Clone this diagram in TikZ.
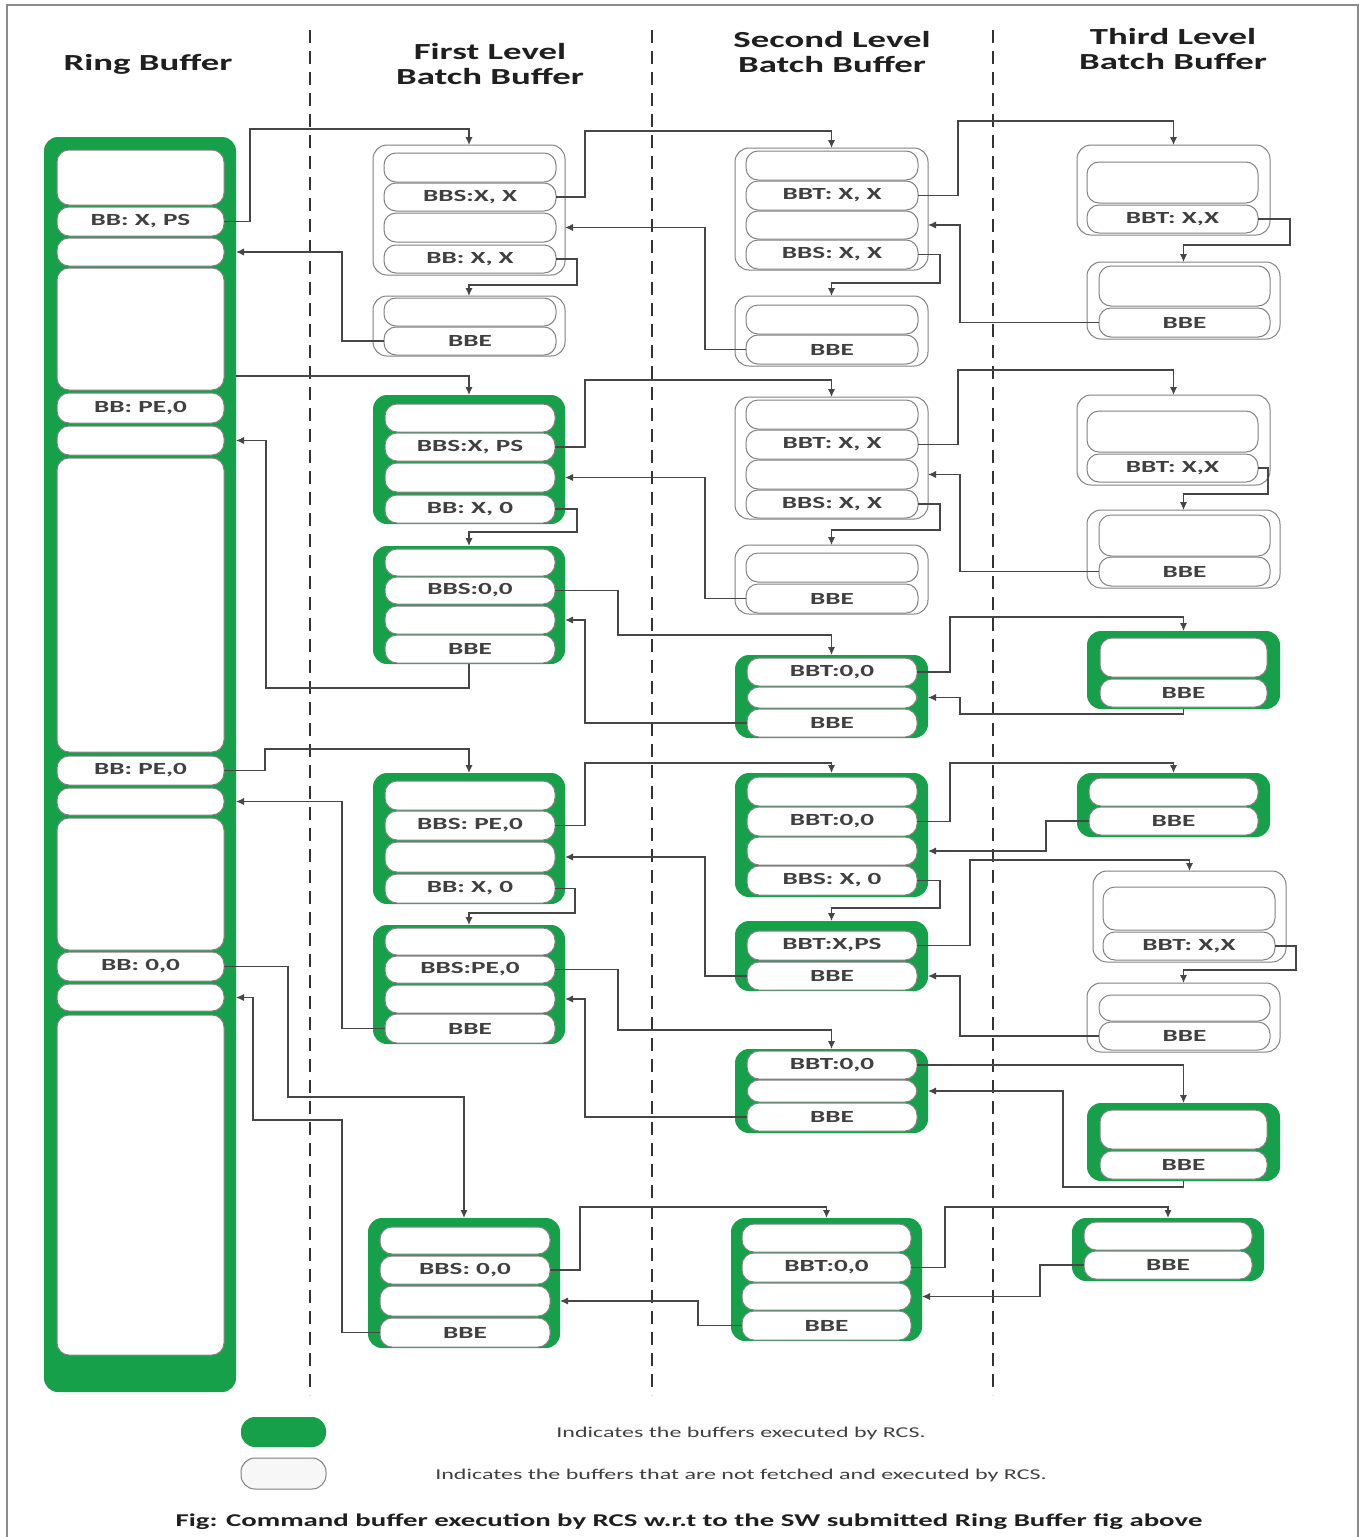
\documentclass[tikz,border=0pt]{standalone}
\usepackage{fontspec}
\usetikzlibrary{arrows.meta}
\newfontfamily\cf{Carlito}[FakeStretch=1.6]
\definecolor{gr}{RGB}{22,160,74}
\definecolor{ln}{RGB}{70,70,70}
\definecolor{sb}{RGB}{130,130,130}
\tikzset{
  slot/.style={draw=sb, fill=white, line width=0.5pt, rounded corners=6pt, inner sep=0pt, outer sep=0pt,
    font=\cf\bfseries\fontsize{8.5}{9}\selectfont, text=black!75},
  gbox/.style={fill=gr, draw=none, rounded corners=7pt, inner sep=0pt, outer sep=0pt},
  wbox/.style={fill=white, draw=sb, line width=0.5pt, rounded corners=7pt, inner sep=0pt, outer sep=0pt},
  cn/.style={draw=ln, line width=0.6pt, -{Latex[length=4pt,width=3.6pt]}},
  hdr/.style={font=\cf\bfseries\fontsize{11.5}{12.5}\selectfont, text=black!88, align=center, inner sep=0pt},
  lg/.style={font=\cf\fontsize{7.5}{9}\selectfont, text=black!75, inner sep=0pt},
  divline/.style={draw=black!80, line width=1.4pt, dash pattern=on 6.5pt off 4pt}
}
\newcommand\bx[6]{\node[#6, minimum width={(#4-#2)*0.5pt}, minimum height={(#5-#3)*0.5pt}] (#1) at ({(#2+#4)/2},{(#3+#5)/2}) {};}
\newcommand\slt[6]{\node[slot, minimum width={(#4-#2)*0.5pt}, minimum height={(#5-#3)*0.5pt}] (#1) at ({(#2+#4)/2},{(#3+#5)/2}) {#6};}
\begin{document}
\begin{tikzpicture}[x=0.5pt,y=-0.5pt]
\useasboundingbox (0,0) rectangle (1364,1537);
\fill[white] (0,0) rectangle (1364,1537);
\draw[black!45, line width=0.6pt] (7,1537) -- (7,5) -- (1358,5) -- (1358,1537);
% dividers
\coordinate (d1t) at (310,30); \coordinate (d1b) at (310,1395);
\coordinate (d2t) at (652,30); \coordinate (d2b) at (652,1395);
\coordinate (d3t) at (993,30); \coordinate (d3b) at (993,1395);
\draw[divline] (d1t) -- (d1b);
\draw[divline] (d2t) -- (d2b);
\draw[divline] (d3t) -- (d3b);
% headers
\node[hdr] (hd0) at (148,64) {Ring Buffer};
\node[hdr] (hd1) at (490,64) {First Level\\Batch Buffer};
\node[hdr] (hd2) at (832,52) {Second Level\\Batch Buffer};
\node[hdr] (hd3) at (1173,49) {Third Level\\Batch Buffer};
% ring buffer
\bx{ring}{44}{137}{236}{1392}{gbox}
\slt{rg1}{57}{150}{224}{205}{}
\slt{rg2}{57}{207}{224}{236}{BB: X, PS}
\slt{rg3}{57}{238}{224}{266}{}
\slt{rg4}{57}{268}{224}{390}{}
\slt{rg5}{57}{393}{224}{423}{BB: PE,0}
\slt{rg6}{57}{426}{224}{455}{}
\slt{rg7}{57}{458}{224}{752}{}
\slt{rg8}{57}{756}{224}{785}{BB: PE,0}
\slt{rg9}{57}{788}{224}{815}{}
\slt{rg10}{57}{818}{224}{950}{}
\slt{rg11}{57}{952}{224}{981}{BB: 0,0}
\slt{rg12}{57}{984}{224}{1011}{}
\slt{rg13}{57}{1015}{224}{1355}{}
% first level
\bx{A}{373}{145}{565}{275}{wbox}
\slt{a1}{384}{153}{556}{182}{}
\slt{a2}{384}{183}{556}{211}{BBS:X, X}
\slt{a3}{384}{213}{556}{242}{}
\slt{a4}{384}{245}{556}{273}{BB: X, X}
\bx{B}{373}{296}{565}{356}{wbox}
\slt{b1}{384}{298}{556}{326}{}
\slt{b2}{384}{327}{556}{355}{BBE}
\bx{C}{373}{395}{565}{524}{gbox}
\slt{c1}{385}{404}{555}{432}{}
\slt{c2}{385}{433}{555}{461}{BBS:X, PS}
\slt{c3}{385}{463}{555}{492}{}
\slt{c4}{385}{495}{555}{523}{BB: X, 0}
\bx{D}{373}{546}{565}{664}{gbox}
\slt{d1}{385}{549}{555}{576}{}
\slt{d2}{385}{577}{555}{604}{BBS:0,0}
\slt{d3}{385}{606}{555}{634}{}
\slt{d4}{385}{635}{555}{663}{BBE}
\bx{E}{373}{773}{565}{904}{gbox}
\slt{e1}{385}{781}{555}{810}{}
\slt{e2}{385}{811}{555}{840}{BBS: PE,0}
\slt{e3}{385}{842}{555}{872}{}
\slt{e4}{385}{874}{555}{903}{BB: X, 0}
\bx{F}{373}{925}{565}{1044}{gbox}
\slt{f1}{385}{928}{555}{955}{}
\slt{f2}{385}{956}{555}{983}{BBS:PE,0}
\slt{f3}{385}{985}{555}{1013}{}
\slt{f4}{385}{1014}{555}{1043}{BBE}
\bx{G}{368}{1218}{560}{1348}{gbox}
\slt{g1}{380}{1227}{550}{1254}{}
\slt{g2}{380}{1256}{550}{1284}{BBS: 0,0}
\slt{g3}{380}{1286}{550}{1316}{}
\slt{g4}{380}{1318}{550}{1347}{BBE}
% second level
\bx{H}{735}{148}{928}{270}{wbox}
\slt{h1}{746}{151}{918}{180}{}
\slt{h2}{746}{181}{918}{210}{BBT: X, X}
\slt{h3}{746}{211}{918}{239}{}
\slt{h4}{746}{240}{918}{269}{BBS: X, X}
\bx{I}{735}{296}{928}{366}{wbox}
\slt{i1}{746}{305}{918}{334}{}
\slt{i2}{746}{335}{918}{364}{BBE}
\bx{J}{735}{397}{928}{519}{wbox}
\slt{j1}{746}{400}{918}{429}{}
\slt{j2}{746}{430}{918}{459}{BBT: X, X}
\slt{j3}{746}{460}{918}{489}{}
\slt{j4}{746}{490}{918}{518}{BBS: X, X}
\bx{K}{735}{545}{928}{614}{wbox}
\slt{k1}{746}{553}{918}{582}{}
\slt{k2}{746}{584}{918}{613}{BBE}
\bx{L}{735}{655}{928}{738}{gbox}
\slt{l1}{747}{658}{917}{686}{BBT:0,0}
\slt{l2}{747}{687}{917}{708}{}
\slt{l3}{747}{709}{917}{737}{BBE}
\bx{M}{735}{773}{928}{897}{gbox}
\slt{m1}{747}{777}{917}{806}{}
\slt{m2}{747}{807}{917}{836}{BBT:0,0}
\slt{m3}{747}{837}{917}{865}{}
\slt{m4}{747}{866}{917}{895}{BBS: X, 0}
\bx{N}{735}{921}{928}{991}{gbox}
\slt{n1}{747}{931}{917}{960}{BBT:X,PS}
\slt{n2}{747}{962}{917}{990}{BBE}
\bx{O}{735}{1049}{928}{1133}{gbox}
\slt{o1}{747}{1051}{917}{1079}{BBT:0,0}
\slt{o2}{747}{1080}{917}{1102}{}
\slt{o3}{747}{1103}{917}{1131}{BBE}
\bx{P}{731}{1218}{922}{1341}{gbox}
\slt{p1}{742}{1224}{911}{1252}{}
\slt{p2}{742}{1253}{911}{1282}{BBT:0,0}
\slt{p3}{742}{1283}{911}{1310}{}
\slt{p4}{742}{1311}{911}{1340}{BBE}
% third level
\bx{Q}{1077}{145}{1270}{235}{wbox}
\slt{q1}{1087}{162}{1258}{203}{}
\slt{q2}{1087}{205}{1258}{233}{BBT: X,X}
\bx{R}{1087}{262}{1280}{339}{wbox}
\slt{rr1}{1099}{266}{1270}{306}{}
\slt{rr2}{1099}{308}{1270}{337}{BBE}
\bx{S}{1077}{395}{1270}{485}{wbox}
\slt{ss1}{1087}{411}{1258}{452}{}
\slt{ss2}{1087}{454}{1258}{482}{BBT: X,X}
\bx{T}{1087}{510}{1280}{588}{wbox}
\slt{t1}{1099}{515}{1270}{556}{}
\slt{t2}{1099}{557}{1270}{586}{BBE}
\bx{U}{1087}{631}{1280}{709}{gbox}
\slt{u1}{1100}{638}{1267}{677}{}
\slt{u2}{1100}{679}{1267}{707}{BBE}
\bx{V}{1077}{773}{1270}{837}{gbox}
\slt{v1}{1089}{778}{1258}{806}{}
\slt{v2}{1089}{807}{1258}{835}{BBE}
\bx{W}{1093}{871}{1286}{962}{wbox}
\slt{w1}{1103}{887}{1275}{930}{}
\slt{w2}{1103}{932}{1275}{960}{BBT: X,X}
\bx{X}{1087}{983}{1280}{1052}{wbox}
\slt{x1}{1099}{995}{1270}{1021}{}
\slt{x2}{1099}{1022}{1270}{1050}{BBE}
\bx{Y}{1087}{1103}{1280}{1181}{gbox}
\slt{y1}{1100}{1110}{1267}{1149}{}
\slt{y2}{1100}{1151}{1267}{1179}{BBE}
\bx{Z}{1072}{1218}{1264}{1281}{gbox}
\slt{z1}{1084}{1222}{1252}{1250}{}
\slt{z2}{1084}{1251}{1252}{1279}{BBE}
% connectors
\coordinate (r10) at (236,376);
\draw[cn] (rg2.east) -| (250,129) -| (A.north);
\draw[cn] (b2.west) -- ++(-42,0) |- (ring.east |- rg3);
\draw[cn] (a2.east) -| (585,131) -| (H.north);
\draw[cn] (i2.west) -- ++(-41,0) |- (A.east |- a3);
\draw[cn] (a4.east) -| (577,285) -| (B.north);
\draw[cn] (h2.east) -| (958,121) -| (Q.north);
\draw[cn] (rr2.west) -- ++(-139,0) |- (H.east |- h3);
\draw[cn] (h4.east) -| (940,283) -| (I.north);
\draw[cn] (q2.east) -| (1290,245) -| (R.north);
\draw[cn] (r10) -| (C.north);
\draw[cn] (D.south) |- (266,688) |- (ring.east |- rg6);
\draw[cn] (c2.east) -| (585,380) -| (J.north);
\draw[cn] (k2.west) -- ++(-41,0) |- (C.east |- c3);
\draw[cn] (c4.east) -| (577,532) -| (D.north);
\draw[cn] (j2.east) -| (958,370) -| (S.north);
\draw[cn] (t2.west) -- ++(-139,0) |- (J.east |- j3);
\draw[cn] (j4.east) -| (940,530) -| (K.north);
\draw[cn] (ss2.east) -| (1268,494) -| (T.north);
\draw[cn] (d2.east) -| (618,635) -| (L.north);
\draw[cn] (l3.west) -- ++(-162,0) |- (D.east |- d3);
\draw[cn] (l1.east) -| (950,617) -| (U.north);
\draw[cn] (U.south) |- (960,714) |- (L.east |- l2);
\draw[cn] (rg8.east) -| (265,749) -| (E.north);
\draw[cn] (f4.west) -- ++(-43,0) |- (ring.east |- rg9);
\draw[cn] (e2.east) -| (585,763) -| (M.north);
\draw[cn] (n2.west) -- ++(-42,0) |- (E.east |- e3);
\draw[cn] (e4.east) -| (575,913) -| (F.north);
\draw[cn] (m2.east) -| (950,763) -| (V.north);
\draw[cn] (v2.west) -- ++(-43,0) |- (M.east |- m3);
\draw[cn] (m4.east) -| (940,908) -| (N.north);
\draw[cn] (n1.east) -| (970,860) -| (W.north);
\draw[cn] (x2.west) -- ++(-139,0) |- (N.east |- n2);
\draw[cn] (w2.east) -| (1296,970) -| (X.north);
\draw[cn] (f2.east) -| (618,1030) -| (O.north);
\draw[cn] (o3.west) -- ++(-162,0) |- (F.east |- f3);
\draw[cn] (o1.east) -| (Y.north);
\draw[cn] (Y.south) |- (1063,1187) |- (O.east |- o2);
\draw[cn] (rg11.east) -| (288,1097) -| (G.north);
\draw[cn] (g4.west) -| (342,1120) -| (253,997.5) -- (ring.east |- rg12);
\draw[cn] (g2.east) -| (580,1207) -| (P.north);
\draw[cn] (z2.west) -- ++(-44,0) |- (P.east |- p3);
\draw[cn] (p4.west) -- ++(-44,0) |- (G.east |- g3);
\draw[cn] (p2.east) -| (945,1207) -| (Z.north);
% legend
\node[gbox, minimum width=42.5pt, minimum height=15pt] (lgg) at (283.5,1432) {};
\node[wbox, fill=black!3, draw=black!50, minimum width=42.5pt, minimum height=15.5pt] (lgw) at (283.5,1473.5) {};
\node[lg] (lt1) at (741,1433) {Indicates the buffers executed by RCS.};
\node[lg] (lt2) at (741,1475) {Indicates the buffers that are not fetched and executed by RCS.};
\node[font=\cf\bfseries\fontsize{9}{11}\selectfont, text=black!88, inner sep=0pt] (cap) at (689,1522) {Fig: Command buffer execution by RCS w.r.t to the SW submitted Ring Buffer fig above};
\end{tikzpicture}
\end{document}
